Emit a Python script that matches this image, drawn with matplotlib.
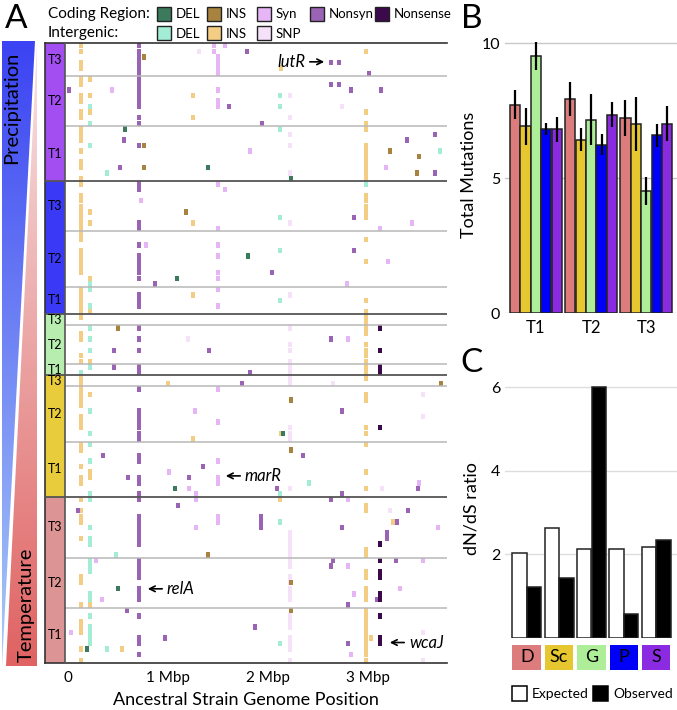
import numpy as np
import matplotlib
matplotlib.use("Agg")
import matplotlib.pyplot as plt
import matplotlib.transforms as mtransforms
from matplotlib.patches import Rectangle, Polygon
from matplotlib.colors import LinearSegmentedColormap

plt.rcParams['font.family'] = ['Lato', 'DejaVu Sans']

# ---------------- panel A data ----------------
# treatments top -> bottom, each split into T3, T2, T1 blocks of populations (rows)
strip_colors = ['#a24ef0', '#3a3af6', '#b7eeb0', '#e8cc3c', '#dc9494']
pop_counts = [[6, 9, 10], [9, 10, 5], [2, 7, 2], [2, 10, 10], [11, 9, 10]]
time_labels = ["T3", "T2", "T1"]

# recurrent loci: genome position (Mbp) and the rows (populations) that carry it
relA_pos = 0.71
relA_rows = [0, 1, 2, 3, 4, 5, 6, 7, 8, 9, 10, 11, 13, 14, 18, 25, 26, 32, 33, 36, 38, 39, 40,
             41, 42, 45, 46, 47, 51, 53, 55, 58, 59, 62, 66, 67, 68, 69, 70, 71, 74, 75, 78,
             79, 81, 82, 85, 86, 87, 88, 89, 90, 93, 94, 95, 96, 98, 99, 100, 103, 107, 108, 110]
syn_locus_pos = 1.50
syn_locus_rows = [2, 3, 4, 5, 8, 10, 11, 25, 33, 36, 38, 41, 42, 44, 47, 62, 68, 75, 78, 79, 85, 86]
snp_locus_pos = 2.22
snp_locus_rows = [9, 13, 16, 18, 23, 32, 45, 51, 54, 55, 57, 58, 59, 60, 61, 69, 70, 71, 80, 88,
                  89, 90, 91, 92, 93, 94, 96, 97, 98, 99, 100, 103, 104, 105, 107, 108, 109, 111]
ins_a_pos = 0.13
ins_a_rows = [0, 1, 3, 4, 6, 7, 9, 10, 12, 13, 15, 16, 17, 19, 21, 22, 24, 25, 27, 28, 29, 30,
              31, 32, 33, 34, 35, 37, 38, 39, 40, 41, 44, 45, 46, 47, 48, 49, 52, 53, 56, 57,
              60, 61, 62, 63, 64, 65, 67, 68, 69, 72, 73, 76, 78, 79, 82, 84, 85, 86, 89, 96,
              97, 101, 104, 105, 106, 109, 111]
ins_b_pos = 0.22
ins_b_rows = [6, 9, 12, 30, 32, 42, 48, 57, 63, 77, 78, 89, 101, 105, 106]
ins_c_pos = 2.98
ins_c_rows = [1, 12, 14, 15, 18, 19, 20, 21, 22, 23, 24, 27, 28, 29, 30, 31, 35, 39, 46, 48, 49,
              50, 51, 52, 54, 55, 56, 57, 58, 59, 60, 63, 64, 69, 70, 72, 77, 80, 83, 84, 91,
              92, 95, 96, 98, 99, 100, 102, 103, 104, 105, 106, 107, 108, 109, 110, 111]
del_a_pos = 0.22
del_a_rows = [11, 14, 18, 43, 44, 47, 51, 53, 55, 58, 66, 70, 72, 75, 81, 82, 87, 89, 90, 93,
              94, 95, 99, 100, 103, 105, 106, 107, 108]
del_b_pos = 2.12
del_b_rows = [9, 11, 15, 31, 37, 46, 81, 86, 108]
wcaJ_pos = 3.12
wcaJ_rows = [51, 55, 58, 59, 69, 90, 93, 95, 96, 99, 100, 103, 107, 108]

# scattered mutations: (row, Mbp)
nonsyn_other = [(1, 1.79), (3, 2.63), (3, 2.71), (5, 3.01), (8, 0.01), (7, 2.63), (7, 2.71),
                (8, 2.83), (8, 3.13), (11, 1.61), (14, 1.94), (17, 0.56), (22, 0.52), (17, 3.39),
                (16, 3.67), (23, 3.67), (31, 2.86), (37, 2.86), (41, 2.04), (43, 0.87), (55, 0.46),
                (55, 1.41), (58, 0.46), (53, 2.63), (59, 1.82), (61, 1.74), (66, 2.74), (74, 0.35),
                (74, 2.35), (76, 1.35), (78, 0.60), (78, 1.21), (80, 2.09), (81, 2.74), (82, 2.63),
                (80, 3.50), (83, 1.10), (84, 0.10), (85, 1.93), (86, 1.93), (87, 1.93), (87, 2.74),
                (86, 3.29), (84, 3.40), (88, 3.19), (89, 3.19), (93, 2.65), (94, 2.63), (93, 3.28),
                (100, 3.09), (101, 2.80), (102, 0.59), (107, 0.97), (105, 1.87), (108, 2.80)]
syn_other = [(0, 1.46), (1, 1.46), (0, 1.57), (8, 0.44), (19, 1.82), (22, 3.18), (26, 1.57),
             (28, 0.73), (36, 0.78), (39, 3.20), (32, 3.44), (33, 3.12), (43, 2.79), (66, 1.27),
             (77, 1.01), (80, 1.21), (81, 1.28), (82, 1.28), (79, 3.51), (82, 2.80), (53, 2.80),
             (87, 1.28), (87, 3.70), (93, 0.28), (100, 0.34), (94, 2.80), (93, 3.55), (99, 2.86),
             (106, 0.03), (110, 2.83), (98, 3.32)]
snp_other = [(1, 1.31), (11, 2.74), (61, 2.65), (80, 3.14), (53, 1.20), (84, 3.22), (63, 3.55),
             (67, 3.55), (106, 3.55), (111, 3.55)]
ig_ins_other = [(9, 1.25), (13, 1.25), (32, 1.25), (45, 1.25), (71, 1.25), (4, 2.13), (70, 2.13),
                (82, 2.12), (61, 1.00), (109, 0.54), (107, 3.03), (86, 3.25)]
ig_del_other = [(23, 0.39), (59, 0.13), (109, 0.39), (92, 0.48), (25, 2.98), (19, 3.72), (79, 2.41)]
cod_del = [(15, 0.57), (22, 1.40), (24, 2.23), (38, 1.80), (42, 1.09), (70, 2.15), (80, 1.07),
           (98, 0.50), (109, 0.19)]
cod_ins = [(2, 0.76), (18, 0.76), (22, 0.76), (30, 1.18), (51, 0.50), (19, 3.22), (20, 3.51),
           (23, 3.49), (61, 3.73), (64, 2.23), (73, 2.23), (92, 1.40), (97, 2.23), (102, 2.23)]

gene_labels = [("lutR", 2.59, 3.4, "right"), ("marR", 1.55, 78.2, "left"),
               ("relA", 0.77, 98.6, "left"), ("wcaJ", 3.19, 108.3, "left")]

# ---------------- panel B / C data ----------------
bar_labels = ["D", "Sc", "G", "P", "S"]
bar_colors = ['#dc7c7c', '#e6c72f', '#aeee98', '#0000f8', '#8a2be2']
times = ["T1", "T2", "T3"]
mut_mean = [[7.72, 6.91, 9.51, 6.81, 6.81],
            [7.93, 6.42, 7.16, 6.23, 7.35],
            [7.22, 7.01, 4.51, 6.58, 7.01]]
mut_err = [[0.55, 0.69, 0.52, 0.22, 0.46],
           [0.64, 0.42, 0.94, 0.39, 0.45],
           [0.66, 1.00, 0.52, 0.42, 0.65]]
dnds_expected = [2.04, 2.62, 2.14, 2.12, 2.18]
dnds_observed = [1.23, 1.44, 6.00, 0.57, 2.34]

type_colors = {
    'cod_del': '#3b7a5c', 'cod_ins': '#a8833f', 'syn': '#e6b5f5', 'nonsyn': '#9b63b3',
    'nonsense': '#3c0a4c', 'ig_del': '#a3ecd5', 'ig_ins': '#f4cd85', 'ig_snp': '#f5e1f8',
}

W, H = 677, 710
fig = plt.figure(figsize=(W / 100, H / 100), dpi=100)

# background axes in pixel coordinates for the side triangles and legends
bg = fig.add_axes([0, 0, 1, 1], zorder=-5)
bg.set_xlim(0, W)
bg.set_ylim(H, 0)
bg.axis('off')


def gradient_triangle(pts, c_top, c_bot):
    cmap = LinearSegmentedColormap.from_list('g', [c_top, c_bot])
    grad = np.linspace(0, 1, 256).reshape(-1, 1)
    xs = [p[0] for p in pts]
    ys = [p[1] for p in pts]
    im = bg.imshow(grad, cmap=cmap, aspect='auto', origin='upper',
                   extent=(min(xs), max(xs), max(ys), min(ys)))
    poly = Polygon(pts, closed=True, facecolor='none', edgecolor='none')
    bg.add_patch(poly)
    im.set_clip_path(poly)


gradient_triangle([(2, 41), (35, 41), (2, 666)], '#3b43f2', '#a9cbf7')
gradient_triangle([(37, 44), (37, 666), (6, 666)], '#f7e4e4', '#e06262')
bg.set_xlim(0, W)
bg.set_ylim(H, 0)
bg.text(12, 108, "Precipitation", rotation=90, ha='center', va='center', fontsize=14.5)
bg.text(26, 605, "Temperature", rotation=90, ha='center', va='center', fontsize=14.5)

bg.text(16, 19, "A", ha='center', va='center', fontsize=24)
bg.text(472, 19, "B", ha='center', va='center', fontsize=24)
bg.text(472, 363, "C", ha='center', va='center', fontsize=24)

# panel A legend
bg.text(48, 14, "Coding Region:", ha='left', va='center', fontsize=11)
bg.text(48, 33, "Intergenic:", ha='left', va='center', fontsize=11)
leg_top = [('cod_del', 'DEL', 157), ('cod_ins', 'INS', 207), ('syn', 'Syn', 257),
           ('nonsyn', 'Nonsyn', 310), ('nonsense', 'Nonsense', 375)]
leg_bot = [('ig_del', 'DEL', 157), ('ig_ins', 'INS', 207), ('ig_snp', 'SNP', 257)]
for items, yc in [(leg_top, 14), (leg_bot, 33)]:
    for key, lab, x0 in items:
        bg.add_patch(Rectangle((x0, yc - 7), 14, 14, facecolor=type_colors[key],
                               edgecolor='#222222', lw=1.0))
        bg.text(x0 + 19, yc + 0.5, lab, ha='left', va='center', fontsize=9.5)

# ---------------- panel A ----------------
ax = fig.add_axes([45 / W, 1 - 663 / H, 402 / W, 620 / H])
ax.set_facecolor('none')
n_rows = sum(sum(c) for c in pop_counts)
xl, xr = -0.23, 3.79
strip_r = -0.03


def marks(rows, pos, color):
    rows = np.asarray(rows, dtype=float)
    pos = np.asarray(pos, dtype=float)
    ax.barh(rows + 0.5, 0.042, left=pos - 0.021, height=0.98, color=color, linewidth=0,
            zorder=2)


def scatter_marks(pairs, color):
    marks([p[0] for p in pairs], [p[1] for p in pairs], color)


marks(snp_locus_rows, [snp_locus_pos] * len(snp_locus_rows), type_colors['ig_snp'])
scatter_marks(snp_other, type_colors['ig_snp'])
marks(ins_a_rows, [ins_a_pos] * len(ins_a_rows), type_colors['ig_ins'])
marks(ins_b_rows, [ins_b_pos] * len(ins_b_rows), type_colors['ig_ins'])
marks(ins_c_rows, [ins_c_pos] * len(ins_c_rows), type_colors['ig_ins'])
scatter_marks(ig_ins_other, type_colors['ig_ins'])
marks(del_a_rows, [del_a_pos] * len(del_a_rows), type_colors['ig_del'])
marks(del_b_rows, [del_b_pos] * len(del_b_rows), type_colors['ig_del'])
scatter_marks(ig_del_other, type_colors['ig_del'])
marks(syn_locus_rows, [syn_locus_pos] * len(syn_locus_rows), type_colors['syn'])
scatter_marks(syn_other, type_colors['syn'])
marks(relA_rows, [relA_pos] * len(relA_rows), type_colors['nonsyn'])
scatter_marks(nonsyn_other, type_colors['nonsyn'])
marks(wcaJ_rows, [wcaJ_pos] * len(wcaJ_rows), type_colors['nonsense'])
scatter_marks(cod_del, type_colors['cod_del'])
scatter_marks(cod_ins, type_colors['cod_ins'])

# treatment strip, block labels and separators
start = 0
for g, counts in enumerate(pop_counts):
    for k, n in enumerate(counts):
        ax.barh(start + n / 2, strip_r - xl, left=xl, height=n, color=strip_colors[g],
                linewidth=0, zorder=1)
        ax.text((xl + strip_r) / 2, start + n / 2, time_labels[k], ha='center', va='center',
                fontsize=9, zorder=4)
        if k > 0:
            ax.hlines(start, strip_r, xr, color='#b8b8b8', lw=1.1, zorder=3)
        start += n
    if g < len(pop_counts) - 1:
        ax.hlines(start, xl, xr, color='#555555', lw=1.3, zorder=3)
ax.axvline(strip_r, color='#555555', lw=1.2, zorder=3)

for name, x, y, side in gene_labels:
    if side == "right":
        ax.annotate("", xy=(x, y), xytext=(x - 0.2, y),
                    arrowprops=dict(arrowstyle='->', lw=1.2, color='black'), zorder=5)
        ax.text(x - 0.21, y, name, ha='right', va='center', fontsize=12, style='italic')
    else:
        ax.annotate("", xy=(x, y), xytext=(x + 0.2, y),
                    arrowprops=dict(arrowstyle='->', lw=1.2, color='black'), zorder=5)
        ax.text(x + 0.22, y, name, ha='left', va='center', fontsize=12, style='italic')

ax.set_xlim(xl, xr)
ax.set_ylim(n_rows, 0)
ax.set_yticks([])
ax.set_xticks([0, 1, 2, 3])
ax.set_xticklabels(["0", "1 Mbp", "2 Mbp", "3 Mbp"], fontsize=11)
ax.tick_params(axis='x', length=0, pad=6)
ax.set_xlabel("Ancestral Strain Genome Position", fontsize=13, labelpad=5)
ax.spines['right'].set_visible(False)
for s in ['left', 'top', 'bottom']:
    ax.spines[s].set_color('#333333')
    ax.spines[s].set_linewidth(1.2)

# ---------------- panel B ----------------
axb = fig.add_axes([505 / W, 1 - 313 / H, 172 / W, 277 / H])
axb.set_facecolor('none')
gstep = 5.3
for t in range(len(times)):
    xs = t * gstep + np.arange(len(bar_labels))
    axb.bar(xs, mut_mean[t], width=0.98, color=bar_colors, edgecolor='#222222', lw=1.1,
            zorder=2)
    axb.errorbar(xs, mut_mean[t], yerr=mut_err[t], fmt='none', ecolor='black', elinewidth=1.6,
                 capsize=0, zorder=3)
axb.set_xlim(-0.98, 15.56)
axb.set_ylim(0, 10.26)
axb.set_yticks([0, 5, 10])
axb.yaxis.grid(True, color='#c8c8c8', lw=1.0, zorder=0)
axb.set_axisbelow(True)
axb.set_xticks([t * gstep + 2 for t in range(len(times))])
axb.set_xticklabels(times, fontsize=12)
axb.tick_params(length=0, labelsize=11.5)
axb.tick_params(axis='x', pad=5, labelsize=12)
axb.set_ylabel("Total Mutations", fontsize=13, labelpad=3)
for s in axb.spines.values():
    s.set_visible(False)

# ---------------- panel C ----------------
axc = fig.add_axes([505 / W, 1 - 638 / H, 172 / W, 258 / H])
axc.set_facecolor('none')
pstep = 2.2
xe = np.arange(len(bar_labels)) * pstep
axc.bar(xe, dnds_expected, width=0.98, color='white', edgecolor='#222222', lw=1.1, zorder=2)
axc.bar(xe + 1, dnds_observed, width=0.98, color='black', edgecolor='#222222', lw=1.1, zorder=2)
axc.set_xlim(-0.976, 10.72)
axc.set_ylim(0, 6.17)
axc.set_yticks([2, 4, 6])
axc.yaxis.grid(True, color='#dddddd', lw=1.0, zorder=0)
axc.set_axisbelow(True)
axc.set_xticks([])
axc.tick_params(length=0, labelsize=11.5)
axc.set_ylabel("dN/dS ratio", fontsize=13, labelpad=8)
for s in axc.spines.values():
    s.set_visible(False)

trans = mtransforms.blended_transform_factory(axc.transData, axc.transAxes)
for i, lab in enumerate(bar_labels):
    axc.add_patch(Rectangle((xe[i] - 0.47, -0.124), 1.94, 0.097, transform=trans,
                            facecolor=bar_colors[i], edgecolor='none', clip_on=False))
    axc.text(xe[i] + 0.5, -0.074, lab, transform=trans, ha='center', va='center', fontsize=13)

bg.add_patch(Rectangle((512, 686), 15, 15, facecolor='white', edgecolor='black', lw=1.1))
bg.text(532, 694, "Expected", ha='left', va='center', fontsize=10)
bg.add_patch(Rectangle((593, 686), 15, 15, facecolor='black', edgecolor='black', lw=1.1))
bg.text(613, 694, "Observed", ha='left', va='center', fontsize=10)

fig.savefig("out.png", dpi=100)
